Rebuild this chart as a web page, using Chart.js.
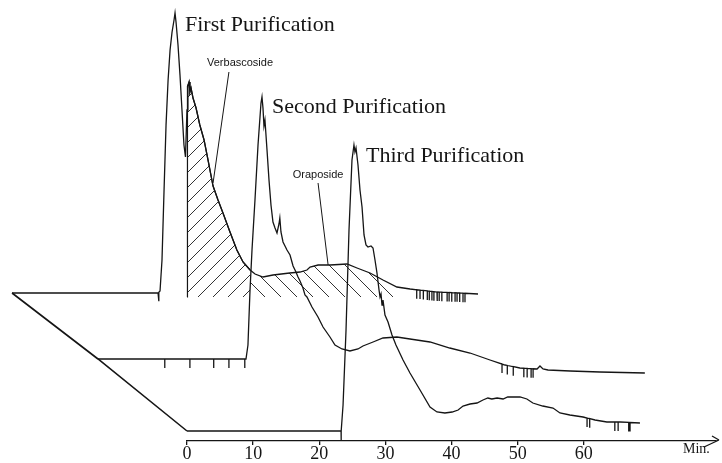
<!DOCTYPE html>
<html>
<head>
<meta charset="utf-8">
<script src="https://cdn.jsdelivr.net/npm/chart.js@4.4.1/dist/chart.umd.min.js"></script>
<style>
  html, body { margin: 0; padding: 0; background: #fff; }
  #wrap { width: 722px; height: 463px; }
</style>
</head>
<body>
<div id="wrap"><canvas id="chrom" width="722" height="463"></canvas></div>
<script>
// Three successive purifications, stacked in pseudo-3D (time in min, detector response in arbitrary units)
const MIN_TICKS = [0, 10, 20, 30, 40, 50, 60];
const X_RANGE   = [0, 80];

// First purification (back)
const firstT = [0, 22.08, 22.38, 22.68, 22.99, 23.29, 23.6, 23.9, 24.2, 24.5, 24.65, 24.8, 25.1, 25.4, 25.7, 26.0, 26.23,
  26.46, 26.6, 26.77, 26.9, 27.07, 27.37, 27.83, 28.4, 29.04, 29.64, 30.4, 31.15, 31.9, 32.96, 34.0, 34.93, 36.0, 36.75,
  37.96, 39.47, 42.0, 43.55, 44.6, 45.07, 46.28, 48.1, 50.66, 52.17, 54.14, 56.1, 58.2, 60.2, 64.27, 67.75, 70.47];
const firstV = [0, 0, 2, 33, 103, 168, 213, 243, 261, 273, 280, 271, 248, 218, 183, 148, 136,
  183, 207, 211, 201, 205, 195, 185, 168, 153, 133, 107, 93, 80, 61, 43, 31, 23, 19,
  16, 18, 20, 21, 23, 26, 28, 28, 29, 25, 20, 13, 6, 4, 1, 0, -1];
const firstMarks = [22.2, 61.2, 61.7, 62.2, 62.8, 63.1, 63.5, 63.8, 64.3, 64.6, 65.0, 65.8, 66.1, 66.5, 67.0, 67.3, 67.7, 68.2, 68.5];

// Second purification (middle)
const secondT = [0, 22.38, 22.68, 22.99, 23.29, 23.74, 24.2, 24.65, 24.8, 24.95, 25.1, 25.25, 25.56, 25.86, 26.16, 26.46,
  26.77, 27.07, 27.37, 27.5, 27.67, 27.98, 28.28, 28.58, 29.04, 29.5, 29.94, 30.25, 30.55, 31.0, 31.3, 31.6, 32.06, 32.36,
  33.27, 34.03, 35.08, 35.84, 36.9, 38.1, 39.32, 40.07, 41.6, 43.1, 45.2, 47.18, 50.2, 53.2, 56.26, 59.28, 61.55, 63.8,
  66.4, 66.84, 67.3, 68.05, 71.4, 75.9, 82.7];
const secondV = [0, 0, 14, 69, 109, 159, 214, 256, 262, 251, 233, 239, 209, 179, 154, 137,
  131, 126, 135, 141, 127, 117, 113, 109, 104, 93, 87, 82, 78, 71, 64, 62, 56, 52,
  42, 32, 22, 14, 10, 8, 10, 13, 17, 21, 22, 20, 17, 11, 6, -1, -6, -9,
  -10, -7, -10, -11, -12, -13, -14];
const secondMarks = [10.1, 13.9, 17.5, 19.8, 22.2, 61.1, 61.9, 62.8, 64.4, 64.9, 65.5, 65.8];

// Third purification (front)
const thirdT = [0, 23.35, 23.6, 24.05, 24.5, 24.95, 25.25, 25.4, 25.56, 25.86, 26.16, 26.47, 26.77, 27.07, 27.37, 27.83,
  28.13, 28.43, 28.73, 29.04, 29.19, 29.34, 29.49, 29.64, 29.94, 30.4, 31.0, 31.6, 32.67, 33.72, 35.24, 36.75, 37.8, 39.0,
  40.1, 41.0, 41.74, 42.8, 43.86, 44.76, 45.5, 46.1, 46.9, 47.8, 48.5, 49.3, 50.36, 51.4, 52.3, 53.8, 55.35, 56.4, 57.9,
  59.9, 61.7, 63.5, 65.5, 68.5];
const thirdV = [0, 0, 26, 101, 201, 271, 286, 279, 283, 266, 241, 224, 196, 186, 184, 185,
  183, 171, 158, 141, 134, 137, 126, 131, 116, 109, 96, 86, 71, 58, 41, 24, 19, 18,
  19, 21, 25, 27, 28, 31, 33, 32, 33, 32, 34, 34, 34, 32, 28, 25, 23, 18, 16,
  14, 11, 9, 9, 8];
const thirdMarks = [23.3, 60.5, 60.9, 64.7, 65.2, 66.8, 67.0];

// shaded fractions on the first run (min)
const verbascosideRange = [26.46, 36.0];
const oraposideRange    = [36.0, 58.2];

const traceNames  = ['First Purification', 'Second Purification', 'Third Purification'];
const nameAt      = [[26.16, 262], [26.3, 246], [27.07, 269]];
const compounds   = ['Verbascoside', 'Oraposide'];
const compoundAt  = [[34.48, 227], [46.28, 115]];
const leaderFrom  = [[32.8, 221], [46.28, 110]];
const leaderTo    = [[30.4, 110], [47.8, 28]];

// depth shift of each run (min, response) so the runs stack back along the diagonal
const SHIFT = [{ dt: -26.46, dv: 138 }, { dt: -13.46, dv: 72 }, { dt: 0, dv: 0 }];
const MARK_DEPTH = 9;
const HATCH_FLOOR = -4;
const INK = '#151515';

function interp(ts, vs, t) {
  for (let i = 1; i < ts.length; i++) {
    if (ts[i] >= t) {
      const k = (t - ts[i - 1]) / (ts[i] - ts[i - 1]);
      return vs[i - 1] + (vs[i] - vs[i - 1]) * k;
    }
  }
  return vs[vs.length - 1];
}

// trace with fraction-collector ticks hanging from it
function tracePoints(ts, vs, marks, s) {
  const pts = ts.map((t, i) => ({ x: t, y: vs[i] }));
  marks.forEach(m => {
    const y = interp(ts, vs, m);
    const i = pts.findIndex(p => p.x > m);
    pts.splice(i, 0, { x: m, y }, { x: m, y: y - MARK_DEPTH }, { x: m, y });
  });
  return pts.map(p => ({ x: p.x + s.dt, y: p.y + s.dv }));
}

function slicePoints(ts, vs, range, s, drop) {
  const pts = [];
  if (drop) pts.push({ x: range[0], y: HATCH_FLOOR });
  pts.push({ x: range[0], y: interp(ts, vs, range[0]) });
  ts.forEach((t, i) => { if (t > range[0] && t < range[1]) pts.push({ x: t, y: vs[i] }); });
  pts.push({ x: range[1], y: interp(ts, vs, range[1]) });
  return pts.map(p => ({ x: p.x + s.dt, y: p.y + s.dv }));
}

function hatch(dir, gap) {
  const c = document.createElement('canvas');
  c.width = c.height = gap;
  const g = c.getContext('2d');
  g.strokeStyle = '#333';
  g.lineWidth = 1;
  g.beginPath();
  if (dir > 0) {
    g.moveTo(0, gap); g.lineTo(gap, 0);
    g.moveTo(-2, 2); g.lineTo(2, -2);
    g.moveTo(gap - 2, gap + 2); g.lineTo(gap + 2, gap - 2);
  } else {
    g.moveTo(0, 0); g.lineTo(gap, gap);
    g.moveTo(gap - 2, -2); g.lineTo(gap + 2, 2);
    g.moveTo(-2, gap - 2); g.lineTo(2, gap + 2);
  }
  g.stroke();
  return g.createPattern(c, 'repeat');
}

const runs = [[firstT, firstV, firstMarks], [secondT, secondV, secondMarks], [thirdT, thirdV, thirdMarks]];

const datasets = [];
runs.forEach(([t, v, m], i) => {
  datasets.push({ data: tracePoints(t, v, m, SHIFT[i]), borderColor: INK, borderWidth: 1.3 });
});
// diagonal joining the start of each run
datasets.push({ data: SHIFT.map(s => ({ x: s.dt, y: s.dv })), borderColor: INK, borderWidth: 1.6 });
// hatched fractions
datasets.push({
  data: slicePoints(firstT, firstV, verbascosideRange, SHIFT[0], true),
  borderColor: INK, borderWidth: 1.2, backgroundColor: hatch(1, 15),
  fill: { value: HATCH_FLOOR + SHIFT[0].dv },
});
datasets.push({
  data: slicePoints(firstT, firstV, oraposideRange, SHIFT[0], false),
  borderWidth: 0, borderColor: 'rgba(0,0,0,0)', backgroundColor: hatch(-1, 16),
  fill: { value: HATCH_FLOOR + SHIFT[0].dv },
});
// leader lines for the compound labels
leaderFrom.forEach((a, i) => {
  datasets.push({
    data: [a, leaderTo[i]].map(p => ({ x: p[0] + SHIFT[0].dt, y: p[1] + SHIFT[0].dv })),
    borderColor: INK, borderWidth: 1,
  });
});
datasets.forEach(d => { d.pointRadius = 0; d.clip = false; d.tension = 0; if (d.fill === undefined) d.fill = false; });

const annotate = {
  id: 'annotate',
  afterDraw(chart) {
    const { ctx, chartArea, scales: { x, y } } = chart;
    ctx.save();
    ctx.fillStyle = INK;
    ctx.strokeStyle = INK;
    ctx.textBaseline = 'alphabetic';

    ctx.font = "22px 'Liberation Serif', 'DejaVu Serif', serif";
    ctx.textAlign = 'left';
    traceNames.forEach((name, i) => {
      const [t, v] = nameAt[i];
      ctx.fillText(name, x.getPixelForValue(t + SHIFT[i].dt), y.getPixelForValue(v + SHIFT[i].dv));
    });

    ctx.font = "11px 'Liberation Sans', Arial, sans-serif";
    ctx.textAlign = 'center';
    compounds.forEach((name, i) => {
      const [t, v] = compoundAt[i];
      ctx.fillText(name, x.getPixelForValue(t + SHIFT[0].dt), y.getPixelForValue(v + SHIFT[0].dv));
    });

    // axis arrow + unit
    const r = x.right, b = chartArea.bottom;
    ctx.lineWidth = 1.3;
    ctx.beginPath();
    ctx.moveTo(r, b); ctx.lineTo(r + 3, b - 1);
    ctx.moveTo(r - 12, b + 6); ctx.lineTo(r + 3, b - 1);
    ctx.moveTo(r - 4, b - 5); ctx.lineTo(r + 3, b - 1);
    ctx.stroke();
    ctx.font = "14px 'Liberation Serif', 'DejaVu Serif', serif";
    ctx.textAlign = 'left';
    ctx.fillText('Min.', 683, b + 12);
    ctx.restore();
  },
};

new Chart(document.getElementById('chrom'), {
  type: 'line',
  data: { datasets },
  plugins: [annotate],
  options: {
    responsive: false,
    animation: false,
    events: [],
    layout: { padding: { left: 187, right: 6, top: 0, bottom: 0 } },
    plugins: { legend: { display: false }, tooltip: { enabled: false } },
    scales: {
      x: {
        type: 'linear',
        bounds: 'data',
        afterDataLimits: s => { s.min = X_RANGE[0]; s.max = X_RANGE[1]; },
        afterBuildTicks: s => { s.ticks = MIN_TICKS.map(value => ({ value })); },
        border: { display: true, color: INK, width: 1.3 },
        grid: { display: true, drawOnChartArea: false, drawTicks: true, tickLength: 4, color: INK, lineWidth: 1.3 },
        ticks: {
          padding: 0, color: INK, maxRotation: 0, autoSkip: false,
          font: { family: "'Liberation Serif', 'DejaVu Serif', serif", size: 18, lineHeight: 1 },
          callback: v => String(v),
        },
      },
      y: { display: false, min: -10, max: 431 },
    },
  },
});
</script>
</body>
</html>
